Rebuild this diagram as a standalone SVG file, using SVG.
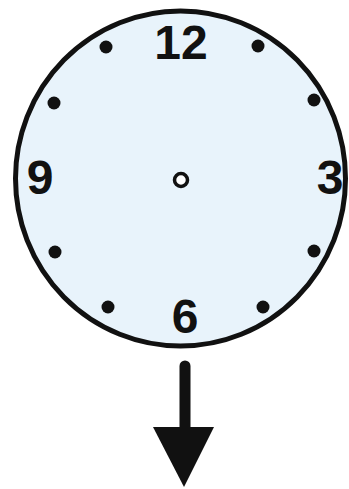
<svg xmlns="http://www.w3.org/2000/svg" width="349" height="489" viewBox="0 0 349 489">
<style>
.num{font-family:"Liberation Sans",Arial,sans-serif;font-weight:bold;font-size:48px;fill:#111;text-anchor:middle}
.dot{fill:#111}
</style>
<rect width="349" height="489" fill="#ffffff"/>
<g id="clock">
<ellipse cx="180.5" cy="178.5" rx="165" ry="167.5" fill="#e8f3fb" stroke="#111" stroke-width="5"/>
<circle cx="181" cy="180" r="6.5" fill="#ffffff" stroke="#111" stroke-width="3.5"/>
</g>
<g id="numbers">
<text class="num" x="181" y="59">12</text>
<text class="num" x="40" y="194">9</text>
<text class="num" x="330" y="194">3</text>
<text class="num" x="185" y="333">6</text>
</g>
<g id="ticks">
<circle class="dot" cx="106" cy="47" r="6.5"/>
<circle class="dot" cx="258" cy="46" r="6.5"/>
<circle class="dot" cx="54" cy="103" r="6.5"/>
<circle class="dot" cx="314" cy="100" r="6.5"/>
<circle class="dot" cx="55" cy="252" r="6.5"/>
<circle class="dot" cx="314" cy="251" r="6.5"/>
<circle class="dot" cx="108" cy="307" r="6.5"/>
<circle class="dot" cx="263" cy="307" r="6.5"/>
</g>
<g id="connectors">
<line x1="185" y1="366" x2="185" y2="432" stroke="#111" stroke-width="11" stroke-linecap="round"/>
<polygon points="153,427 214,427 184,487" fill="#111"/>
</g>
</svg>
